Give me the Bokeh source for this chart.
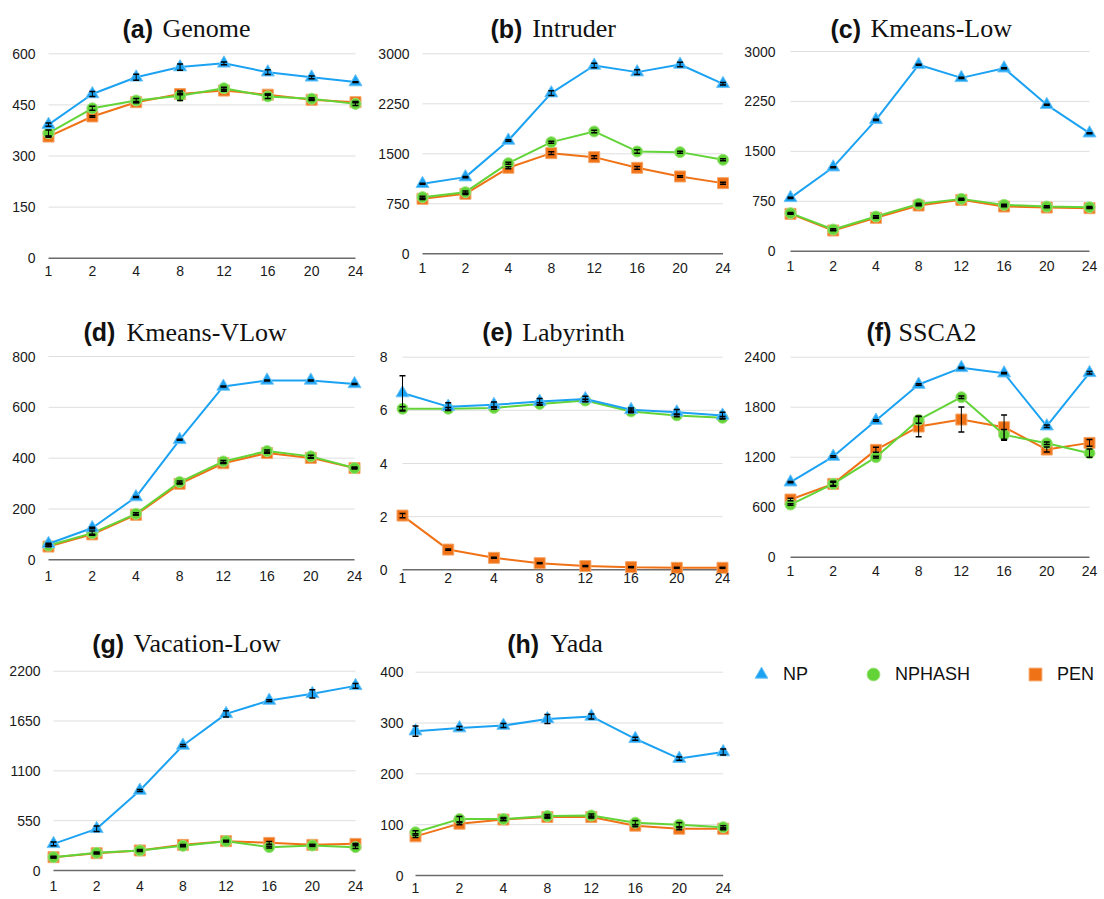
from bokeh.plotting import figure
from bokeh.layouts import column, row
from bokeh.models import (Range1d, FixedTicker, Label, Whisker, TeeHead,
                          ColumnDataSource, Legend, LegendItem)
from bokeh.embed import file_html
from bokeh.resources import INLINE

# ---------------- data ----------------
threads = ["1", "2", "4", "8", "12", "16", "20", "24"]
series_names = ["NP", "NPHASH", "PEN"]

genome_np = [392, 482, 531, 561, 572, 546, 531, 517]
genome_nphash = [367, 440, 463, 477, 499, 475, 468, 453]
genome_pen = [357, 416, 458, 482, 492, 480, 465, 458]
genome_np_err = [5, 7, 9, 9, 4, 7, 4, 1]
genome_nphash_err = [9, 6, 6, 14, 3, 6, 3, 5]
genome_pen_err = [2, 2, 2, 2, 2, 2, 2, 2]

intruder_np = [1050, 1150, 1700, 2410, 2825, 2725, 2840, 2550]
intruder_nphash = [850, 925, 1360, 1675, 1835, 1535, 1525, 1410]
intruder_pen = [825, 900, 1290, 1510, 1450, 1290, 1160, 1060]
intruder_np_err = [8, 8, 10, 35, 35, 35, 35, 18]
intruder_nphash_err = [15, 18, 15, 15, 20, 25, 15, 15]
intruder_pen_err = [10, 10, 15, 20, 20, 20, 10, 15]

kmeans_low_np = [801, 1262, 1973, 2800, 2604, 2749, 2199, 1773]
kmeans_low_nphash = [571, 326, 521, 711, 786, 696, 671, 661]
kmeans_low_pen = [561, 311, 501, 686, 771, 671, 656, 646]
kmeans_low_np_err = [8, 8, 8, 8, 8, 8, 8, 8]
kmeans_low_nphash_err = [10, 10, 10, 10, 10, 10, 10, 10]
kmeans_low_pen_err = [5, 5, 5, 5, 5, 5, 5, 5]

kmeans_vlow_np = [63, 125, 247, 472, 682, 706, 706, 692]
kmeans_vlow_nphash = [56, 105, 181, 306, 387, 428, 407, 361]
kmeans_vlow_pen = [52, 100, 177, 299, 380, 420, 401, 361]
kmeans_vlow_np_err = [2, 3, 2, 2, 2, 2, 2, 2]
kmeans_vlow_nphash_err = [3, 8, 4, 4, 4, 4, 4, 4]
kmeans_vlow_pen_err = [1, 1, 1, 1, 1, 1, 1, 1]

labyrinth_np = [6.65, 6.14, 6.21, 6.33, 6.43, 6.02, 5.93, 5.81]
labyrinth_nphash = [6.06, 6.06, 6.09, 6.24, 6.37, 5.96, 5.81, 5.72]
labyrinth_pen = [2.04, 0.76, 0.45, 0.25, 0.14, 0.10, 0.075, 0.075]
labyrinth_np_err = [0.65, 0.15, 0.1, 0.12, 0.1, 0.07, 0.1, 0.12]
labyrinth_nphash_err = [0.08, 0.05, 0.05, 0.05, 0.05, 0.05, 0.05, 0.05]
labyrinth_pen_err = [0.08, 0.02, 0.02, 0.02, 0.02, 0.02, 0.02, 0.02]

ssca2_np = [900, 1208, 1640, 2072, 2272, 2208, 1572, 2212]
ssca2_nphash = [632, 880, 1200, 1648, 1920, 1468, 1368, 1248]
ssca2_pen = [692, 880, 1288, 1568, 1652, 1560, 1292, 1372]
ssca2_np_err = [8, 8, 8, 8, 8, 8, 15, 15]
ssca2_nphash_err = [10, 30, 10, 40, 15, 65, 15, 50]
ssca2_pen_err = [15, 20, 30, 124, 150, 146, 30, 40]

vacation_low_np = [294, 460, 883, 1380, 1729, 1876, 1950, 2038]
vacation_low_nphash = [147, 195, 221, 272, 324, 258, 276, 258]
vacation_low_pen = [147, 191, 221, 283, 324, 305, 283, 294]
vacation_low_np_err = [20, 30, 10, 10, 35, 10, 45, 25]
vacation_low_nphash_err = [10, 10, 10, 10, 10, 10, 10, 15]
vacation_low_pen_err = [5, 5, 5, 5, 5, 15, 5, 5]

yada_np = [284, 290, 295, 308, 313, 269, 230, 243]
yada_nphash = [85, 111, 111, 117, 118, 104, 100, 95]
yada_pen = [77, 102, 110, 115, 115, 98, 92, 92]
yada_np_err = [10, 3, 4, 9, 5, 3, 3, 6]
yada_nphash_err = [3, 5, 3, 3, 3, 4, 4, 3]
yada_pen_err = [2, 2, 2, 2, 2, 2, 2, 2]

yticks_genome = [0, 150, 300, 450, 600]
yticks_intruder = [0, 750, 1500, 2250, 3000]
yticks_kmeans_low = [0, 750, 1500, 2250, 3000]
yticks_kmeans_vlow = [0, 200, 400, 600, 800]
yticks_labyrinth = [0, 2, 4, 6, 8]
yticks_ssca2 = [0, 600, 1200, 1800, 2400]
yticks_vacation_low = [0, 550, 1100, 1650, 2200]
yticks_yada = [0, 100, 200, 300, 400]

# ---------------- styles ----------------
COLORS = {"NP": "#1CA2F2", "NPHASH": "#62D438", "PEN": "#F07216"}
EDGES = {"NP": "#6EC4F6", "NPHASH": "#9CE37C", "PEN": "#F5A567"}
MARKERS = {"NP": "triangle", "NPHASH": "circle", "PEN": "square"}
SIZES = {"NP": 13, "NPHASH": 11, "PEN": 11}
SANS = "Liberation Sans"
SERIF = "Liberation Serif"

# cells (page px): columns and rows of the 3x3 grid
COLS = [(0, 370), (370, 740), (740, 1104)]
ROWS = [(0, 300), (300, 610), (610, 899)]

LAY = {
    "a": dict(c=0, r=0, P0=48, P7=355, Ytop=53.3, Y0=257.7, ylab=35, xlab=271.7,
              tag_x=122, name_x=162, base=28.3),
    "b": dict(c=1, r=0, P0=422, P7=722.5, Ytop=53.3, Y0=253.3, ylab=409, xlab=268.3,
              tag_x=490, name_x=531.7, base=28.3),
    "c": dict(c=2, r=0, P0=790, P7=1089, Ytop=51, Y0=250.7, ylab=775, xlab=266.7,
              tag_x=830, name_x=870, base=28.3),
    "d": dict(c=0, r=1, P0=48, P7=354, Ytop=356, Y0=559.3, ylab=35, xlab=576.7,
              tag_x=83, name_x=126, base=331.7),
    "e": dict(c=1, r=1, P0=402, P7=722, Ytop=356.7, Y0=569.3, ylab=386.7, xlab=578.3,
              tag_x=481.7, name_x=521.7, base=331.7),
    "f": dict(c=2, r=1, P0=790, P7=1089, Ytop=356.7, Y0=556.7, ylab=775, xlab=571.7,
              tag_x=866, name_x=898, base=331.7),
    "g": dict(c=0, r=2, P0=53, P7=355, Ytop=670.7, Y0=870, ylab=40, xlab=886,
              tag_x=91.7, name_x=133, base=643.3),
    "h": dict(c=1, r=2, P0=415, P7=722.7, Ytop=671.7, Y0=875, ylab=403.3, xlab=888.3,
              tag_x=506.7, name_x=550, base=643.3),
}


def make_panel(key, tag, name, values, errors, yticks):
    L = LAY[key]
    cx0, cx1 = COLS[L["c"]]
    cy0, cy1 = ROWS[L["r"]]
    Ytop, Y0, xlab, base = L["Ytop"], L["Y0"], L["xlab"], L["base"]
    W, H = cx1 - cx0, cy1 - cy0
    n = len(threads)
    d = (L["P7"] - L["P0"]) / (n - 1)
    ymax = yticks[-1]
    u = ymax / (Y0 - Ytop)
    p = figure(width=W, height=H, output_backend="svg", toolbar_location=None,
               x_range=Range1d((cx0 - L["P0"]) / d, (n - 1) + (cx1 - L["P7"]) / d),
               y_range=Range1d(-(cy1 - Y0) * u, ymax + (Ytop - cy0) * u),
               min_border_left=0, min_border_right=0, min_border_top=0, min_border_bottom=0)
    p.outline_line_color = None
    p.xgrid.visible = False
    p.ygrid.visible = False
    p.background_fill_color = "white"
    p.border_fill_color = "white"

    xs = list(range(n))
    # gridlines and baseline, spanning the first to the last thread count
    p.segment(x0=[0] * (len(yticks) - 1), x1=[n - 1] * (len(yticks) - 1),
              y0=yticks[1:], y1=yticks[1:], line_color="#dedede", line_width=1)
    p.segment(x0=[0], x1=[n - 1], y0=[0], y1=[0], line_color="#6b6b6b", line_width=1.6)

    for s in ["PEN", "NPHASH", "NP"]:
        p.line(xs, values[s], line_color=COLORS[s], line_width=2)
        p.scatter(xs, values[s], marker=MARKERS[s], size=SIZES[s],
                  fill_color=COLORS[s], line_color=EDGES[s], line_width=1)
    for s in ["PEN", "NPHASH", "NP"]:
        v, e = values[s], errors[s]
        src = ColumnDataSource(dict(x=xs, upper=[a + b for a, b in zip(v, e)],
                                    lower=[a - b for a, b in zip(v, e)]))
        w = Whisker(base="x", upper="upper", lower="lower", source=src, dimension="height",
                    line_color="black", line_width=1, level="overlay",
                    upper_head=TeeHead(size=6, line_color="black", line_width=1.5),
                    lower_head=TeeHead(size=6, line_color="black", line_width=1.5))
        p.add_layout(w)

    p.xaxis.ticker = FixedTicker(ticks=xs)
    p.xaxis.major_label_overrides = {i: t for i, t in enumerate(threads)}
    p.yaxis.ticker = FixedTicker(ticks=yticks)
    for ax in (p.xaxis, p.yaxis):
        ax.axis_line_color = None
        ax.major_tick_line_color = None
        ax.minor_tick_line_color = None
        ax.major_tick_out = 0
        ax.major_tick_in = 0
        ax.minor_tick_out = 0
        ax.minor_tick_in = 0
        ax.major_label_text_font = SANS
        ax.major_label_text_font_size = "14px"
        ax.major_label_text_color = "#1a1a1a"
        ax.fixed_location = 0
    p.xaxis.major_label_standoff = max(0, int(round(xlab - Y0 - 6)))
    p.yaxis.major_label_standoff = int(round(L["P0"] - L["ylab"]))

    p.add_layout(Label(x=L["tag_x"] - cx0, y=cy1 - base, x_units="screen", y_units="screen",
                       text=tag, text_font=SANS, text_font_style="bold", text_font_size="25px",
                       text_color="#111111", text_align="left", text_baseline="alphabetic"))
    p.add_layout(Label(x=L["name_x"] - cx0, y=cy1 - base, x_units="screen", y_units="screen",
                       text=name, text_font=SERIF, text_font_size="26px",
                       text_color="#111111", text_align="left", text_baseline="alphabetic"))
    return p


def vals(a, b, c):
    return {"NP": a, "NPHASH": b, "PEN": c}


pa = make_panel("a", "(a)", "Genome", vals(genome_np, genome_nphash, genome_pen),
                vals(genome_np_err, genome_nphash_err, genome_pen_err), yticks_genome)
pb = make_panel("b", "(b)", "Intruder", vals(intruder_np, intruder_nphash, intruder_pen),
                vals(intruder_np_err, intruder_nphash_err, intruder_pen_err), yticks_intruder)
pc = make_panel("c", "(c)", "Kmeans-Low", vals(kmeans_low_np, kmeans_low_nphash, kmeans_low_pen),
                vals(kmeans_low_np_err, kmeans_low_nphash_err, kmeans_low_pen_err), yticks_kmeans_low)
pd_ = make_panel("d", "(d)", "Kmeans-VLow", vals(kmeans_vlow_np, kmeans_vlow_nphash, kmeans_vlow_pen),
                 vals(kmeans_vlow_np_err, kmeans_vlow_nphash_err, kmeans_vlow_pen_err), yticks_kmeans_vlow)
pe = make_panel("e", "(e)", "Labyrinth", vals(labyrinth_np, labyrinth_nphash, labyrinth_pen),
                vals(labyrinth_np_err, labyrinth_nphash_err, labyrinth_pen_err), yticks_labyrinth)
pf = make_panel("f", "(f)", "SSCA2", vals(ssca2_np, ssca2_nphash, ssca2_pen),
                vals(ssca2_np_err, ssca2_nphash_err, ssca2_pen_err), yticks_ssca2)
pg = make_panel("g", "(g)", "Vacation-Low", vals(vacation_low_np, vacation_low_nphash, vacation_low_pen),
                vals(vacation_low_np_err, vacation_low_nphash_err, vacation_low_pen_err), yticks_vacation_low)
ph = make_panel("h", "(h)", "Yada", vals(yada_np, yada_nphash, yada_pen),
                vals(yada_np_err, yada_nphash_err, yada_pen_err), yticks_yada)

# legend panel (bottom-right cell)
lx0, lx1 = COLS[2]
ly0, ly1 = ROWS[2]
pl = figure(width=lx1 - lx0, height=ly1 - ly0, output_backend="svg", toolbar_location=None,
            x_range=Range1d(0, 1), y_range=Range1d(0, 1),
            min_border_left=0, min_border_right=0, min_border_top=0, min_border_bottom=0)
pl.outline_line_color = None
pl.xaxis.visible = False
pl.yaxis.visible = False
pl.xgrid.visible = False
pl.ygrid.visible = False
items = []
nan = float("nan")
for s in series_names:
    r = pl.scatter(x=[nan], y=[nan], marker=MARKERS[s], fill_color=COLORS[s],
                   line_color=EDGES[s], line_width=1)
    items.append(LegendItem(label=s, renderers=[r]))
glyph_center_y = 674
legend = Legend(items=items, orientation="horizontal",
                location=(745 - lx0, ly1 - (glyph_center_y + 16)), spacing=49,
                glyph_width=32, glyph_height=32, label_standoff=6,
                label_text_font=SANS, label_text_font_size="18px", label_text_color="#111111",
                padding=0, margin=0, border_line_color=None, background_fill_alpha=0)
pl.add_layout(legend)

layout = column(row(pa, pb, pc), row(pd_, pe, pf), row(pg, ph, pl))
open("out.html", "w").write(file_html(layout, INLINE))
